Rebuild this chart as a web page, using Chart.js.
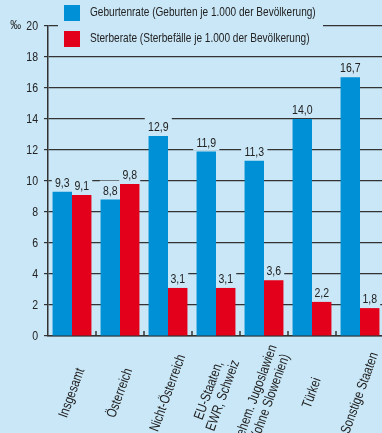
<!DOCTYPE html>
<html><head><meta charset="utf-8">
<script src="https://cdn.jsdelivr.net/npm/chart.js@4"></script>
<style>
html,body{margin:0;padding:0;background:#c9e7f7;overflow:hidden;width:382px;height:433px;}
#wrap{width:384px;height:433px;}
canvas{display:block;}
</style></head><body><div id="wrap"><canvas id="c" width="384" height="433"></canvas></div>
<script>
const categories = [['Insgesamt'],['Österreich'],['Nicht-Österreich'],['EU-Staaten,','EWR, Schweiz'],['ehem. Jugoslawien','(ohne Slowenien)'],['Türkei'],['Sonstige Staaten']];
const birthRate = [9.3, 8.8, 12.9, 11.9, 11.3, 14.0, 16.7];
const deathRate = [9.1, 9.8, 3.1, 3.1, 3.6, 2.2, 1.8];
const seriesNames = ['Geburtenrate (Geburten je 1.000 der Bevölkerung)', 'Sterberate (Sterbefälle je 1.000 der Bevölkerung)'];
const yTicks = [0, 2, 4, 6, 8, 10, 12, 14, 16, 18, 20];
const unitLabel = '‰';

const BG = '#c9e7f7';
const BLUE = '#0090d5';
const RED = '#e2001a';
const INK = '#222222';
const LINE = '#333333';
const FONT = '"Liberation Sans",Arial,sans-serif';
const SX = 0.8; // horizontal condensing of text
const fmt = v => v.toFixed(1).replace('.', ',');

function narrowText(c, text, x, y, size, align, sx) {
  c.save();
  c.font = size + 'px ' + FONT;
  c.textAlign = align;
  c.translate(x, y);
  c.scale(sx || SX, 1);
  c.fillText(text, 0, 0);
  c.restore();
}

const bgPlugin = {
  id: 'bg',
  beforeDraw(chart) {
    const c = chart.ctx; c.save(); c.fillStyle = BG; c.fillRect(0, 0, chart.width, chart.height); c.restore();
  }
};

const labelBgPlugin = {
  id: 'labelBg',
  beforeDatasetsDraw(chart) {
    const c = chart.ctx; c.save(); c.font = '13.5px ' + FONT; c.fillStyle = BG;
    chart.data.datasets.forEach((ds, d) => {
      chart.getDatasetMeta(d).data.forEach((bar, i) => {
        const w = c.measureText(fmt(ds.data[i])).width * SX + 6;
        c.fillRect(bar.x - w / 2, bar.y - 19, w, 18);
      });
    });
    c.restore();
  },
  afterDatasetsDraw(chart) {
    const c = chart.ctx; c.save(); c.fillStyle = INK; c.textBaseline = 'alphabetic';
    chart.data.datasets.forEach((ds, d) => {
      chart.getDatasetMeta(d).data.forEach((bar, i) => {
        narrowText(c, fmt(ds.data[i]), bar.x, bar.y - 5, 13.5, 'center', 0.78);
      });
    });
    c.restore();
  }
};

const axisTextPlugin = {
  id: 'axisText',
  afterDraw(chart) {
    const c = chart.ctx, xs = chart.scales.x, ys = chart.scales.y, area = chart.chartArea;
    const n = categories.length;
    const step = xs.getPixelForValue(1) - xs.getPixelForValue(0);
    c.save();
    // small boundary ticks on x axis
    c.strokeStyle = LINE; c.lineWidth = 1.5;
    for (let i = 1; i <= n; i++) {
      const bx = xs.getPixelForValue(i - 1) + step / 2;
      c.beginPath(); c.moveTo(bx, area.bottom - 5); c.lineTo(bx, area.bottom); c.stroke();
    }
    // y tick labels
    c.fillStyle = INK; c.textBaseline = 'middle';
    yTicks.forEach(v => narrowText(c, String(v), area.left - 10, ys.getPixelForValue(v) + 0.5, 13.5, 'right', 0.78));
    narrowText(c, unitLabel, 21, ys.getPixelForValue(yTicks[yTicks.length - 1]), 12, 'right', 0.9);
    // rotated category labels
    categories.forEach((lines, i) => {
      const x = xs.getPixelForValue(i);
      c.save(); c.translate(x, area.bottom + 57); c.rotate(-70 * Math.PI / 180);
      c.font = '14px ' + FONT; c.textAlign = 'center'; c.textBaseline = 'middle';
      c.scale(SX, 1);
      const lh = 15, k = lines.length;
      lines.forEach((t, j) => c.fillText(t, 0, (j - (k - 1) / 2) * lh / 1));
      c.restore();
    });
    // legend
    c.fillStyle = BG; c.fillRect(58, 0, 265, 50);
    const colors = [BLUE, RED];
    c.textBaseline = 'middle';
    chart.data.datasets.forEach((ds, d) => {
      const y0 = 5 + d * 26;
      c.fillStyle = colors[d]; c.fillRect(64, y0, 16, 16);
      c.fillStyle = INK; narrowText(c, ds.label, 90, y0 + 8, 12.6, 'left', 0.8);
    });
    c.restore();
  }
};

new Chart(document.getElementById('c'), {
  type: 'bar',
  data: {
    labels: categories,
    datasets: [
      { label: seriesNames[0], data: birthRate, backgroundColor: BLUE, categoryPercentage: 0.81, barPercentage: 1 },
      { label: seriesNames[1], data: deathRate, backgroundColor: RED, categoryPercentage: 0.81, barPercentage: 1 }
    ]
  },
  options: {
    responsive: false, animation: false, devicePixelRatio: 1,
    layout: { padding: { top: 26, right: 0, left: 0, bottom: 0 } },
    plugins: { legend: { display: false }, tooltip: { enabled: false } },
    scales: {
      x: {
        ticks: { display: false },
        grid: { display: false },
        border: { color: LINE, width: 1.5 },
        afterFit: s => { s.height = 97; }
      },
      y: {
        min: 0, max: 20,
        afterBuildTicks: s => { s.ticks = yTicks.map(v => ({ value: v })); },
        ticks: { display: false },
        grid: { color: LINE, lineWidth: 1.2, tickLength: 4 },
        border: { color: LINE, width: 1.5 },
        afterFit: s => { s.width = 48; }
      }
    }
  },
  plugins: [bgPlugin, labelBgPlugin, axisTextPlugin]
});
</script></body></html>
